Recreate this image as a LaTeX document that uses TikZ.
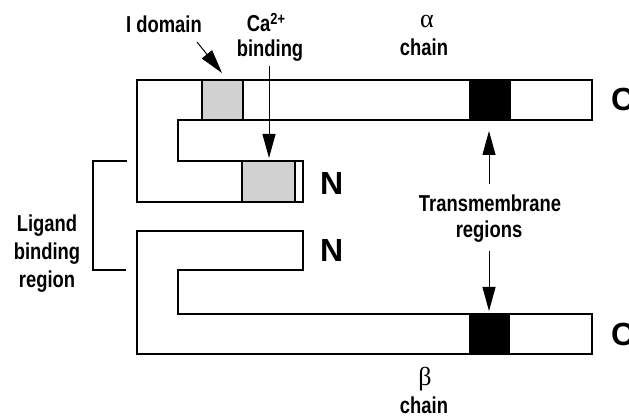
\documentclass[tikz,border=0pt]{standalone}
\usepackage{fontspec}
\usetikzlibrary{arrows.meta}
\newfontfamily\lab[FakeStretch=0.8]{Liberation Sans}
\newfontfamily\grk{Liberation Serif}
\newfontfamily\term{Liberation Sans}
\begin{document}
\begin{tikzpicture}[x=1pt,y=-1pt,
  lbl/.style={font=\lab\bfseries\fontsize{23}{26}\selectfont, inner sep=0, anchor=base},
  termlbl/.style={font=\term\bfseries\fontsize{32}{32}\selectfont, inner sep=0, anchor=base west},
  gr/.style={font=\grk\fontsize{26}{26}\selectfont, inner sep=0, anchor=base},
  chainline/.style={line width=1.1pt, line join=miter},
  stip/.style={fill=black!18},
  tm/.style={fill=black},
  arr/.style={line width=1pt, -{Triangle[length=24pt,width=13pt]}}]
\useasboundingbox (0,0) rectangle (629,419);

% alpha chain fills
\fill[stip] (202,80) rectangle (243,120);
\fill[stip] (242,161) rectangle (295,202);
\fill[tm] (469,80) rectangle (511,120);
% alpha chain outline
\draw[chainline] (592,80) -- (137,80) -- (137,202) -- (303,202) -- (303,161)
  -- (178,161) -- (178,120) -- (592,120) -- cycle;
\draw[chainline] (202,80) -- (202,120) (243,80) -- (243,120)
  (242,161) -- (242,202) (295,161) -- (295,202);

% beta chain
\fill[tm] (469,314) rectangle (510,354);
\draw[chainline] (303,231) -- (137,231) -- (137,354) -- (592,354) -- (592,314)
  -- (178,314) -- (178,270) -- (303,270) -- cycle;

% ligand binding bracket
\draw[chainline] (127,161) -- (93,161) -- (93,270) -- (126,270);

% labels
\node[lbl] (idom) at (164,33) {I domain};
\node[lbl] (ca) at (266,32) {Ca\raisebox{0.62ex}{\fontsize{16}{16}\selectfont 2+}};
\node[lbl] (cabind) at (270,57) {binding};
\node[gr] (alpha) at (427,28) {α};
\node[lbl] (achain) at (424,56) {chain};
\node[gr] (beta) at (425,385) {β};
\node[lbl] (bchain) at (424,413) {chain};
\node[lbl] (tm1) at (490,212) {Transmembrane};
\node[lbl] (tm2) at (489,238) {regions};
\node[lbl] (lig1) at (47,232) {Ligand};
\node[lbl] (lig2) at (47,260) {binding};
\node[lbl] (lig3) at (47,288) {region};
\node[termlbl] (n1) at (320,195) {N};
\node[termlbl] (n2) at (320,262) {N};
\node[termlbl] (c1) at (611,111) {C};
\node[termlbl] (c2) at (611,346) {C};

% arrows
\coordinate (idomS) at (197,42);
\coordinate (idomT) at (222,73);
\coordinate (caS) at (269,66);
\coordinate (caT) at (269,158);
\coordinate (tmUpS) at (489,184);
\coordinate (tmUpT) at (489,131);
\coordinate (tmDnS) at (489,251);
\coordinate (tmDnT) at (489,311);
\draw[arr] (idomS) -- (idomT);
\draw[arr] (caS) -- (caT);
\draw[arr] (tmUpS) -- (tmUpT);
\draw[arr] (tmDnS) -- (tmDnT);
\end{tikzpicture}
\end{document}
